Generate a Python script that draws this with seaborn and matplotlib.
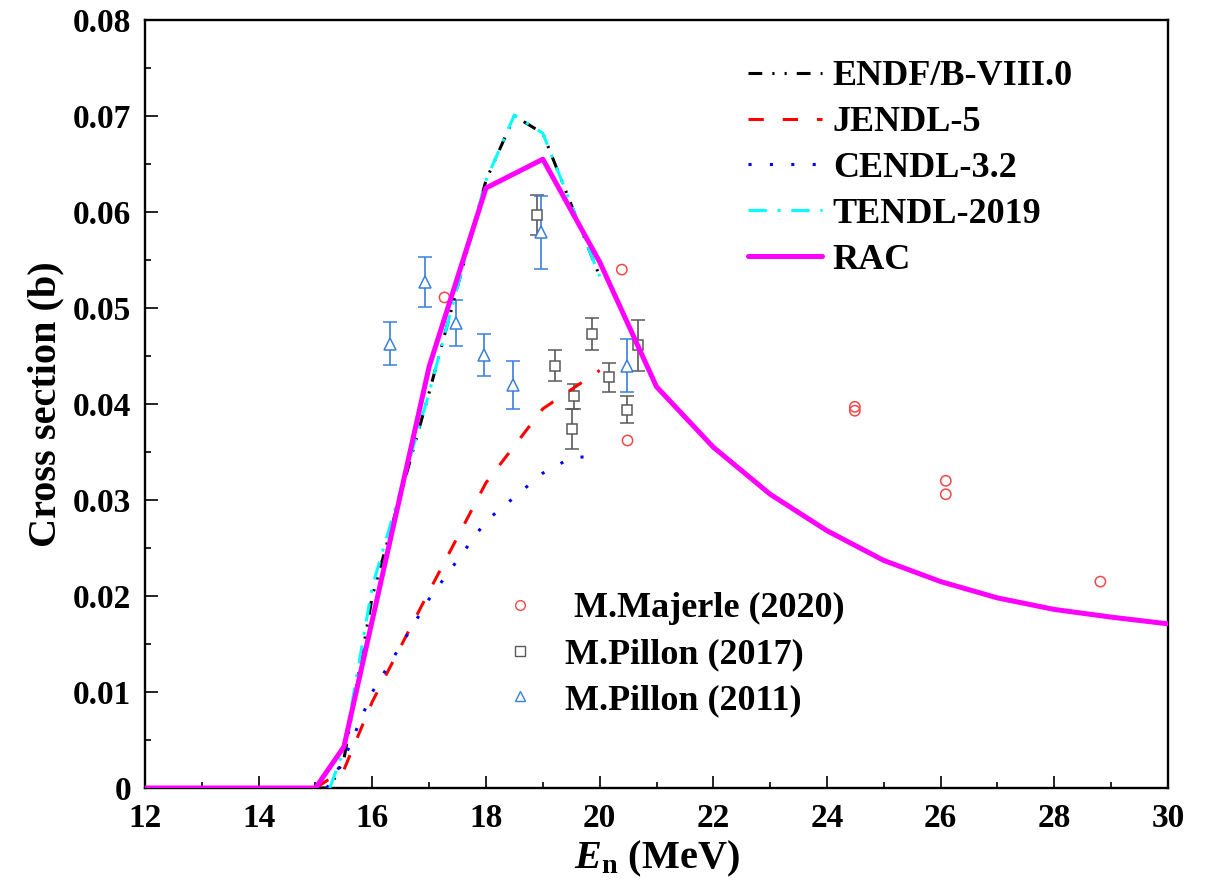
import numpy as np
import pandas as pd
import matplotlib
matplotlib.use("Agg")
import matplotlib.pyplot as plt
import seaborn as sns
from matplotlib.lines import Line2D
from matplotlib.ticker import MultipleLocator, FuncFormatter

# ---------------- data ----------------
endf_x = [15.0, 15.25, 15.5, 16.0, 17.0, 18.0, 18.5, 19.0, 20.0]
endf_y = [0.0, 0.0, 0.003, 0.020, 0.0412, 0.0633, 0.0700, 0.0682, 0.0533]

jendl_x = [15.0, 15.5, 16.0, 17.0, 18.0, 19.0, 20.0]
jendl_y = [0.0, 0.0019, 0.0090, 0.0205, 0.0318, 0.0395, 0.0435]

cendl_x = [15.2, 15.5, 16.0, 17.0, 18.0, 19.0, 19.5, 20.0]
cendl_y = [0.0, 0.003, 0.0100, 0.0197, 0.0278, 0.0328, 0.0344, 0.0346]

tendl_x = [15.25, 15.5, 16.0, 17.0, 18.0, 18.5, 19.0, 20.0]
tendl_y = [0.0, 0.004, 0.021, 0.0412, 0.0633, 0.0701, 0.0682, 0.0533]

rac_x = [12.0, 15.0, 15.5, 17.0, 18.0, 19.0, 20.0, 21.0, 22.0, 23.0, 24.0,
         25.0, 26.0, 27.0, 28.0, 29.0, 30.0]
rac_y = [0.0, 0.0, 0.0043, 0.0439, 0.0625, 0.0655, 0.0548, 0.0418, 0.0355,
         0.0306, 0.0268, 0.0237, 0.0215, 0.0198, 0.0186, 0.0178, 0.0171]

maj_x = [17.27, 20.39, 20.49, 24.49, 24.49, 26.09, 26.09, 28.81]
maj_y = [0.0511, 0.0540, 0.0362, 0.0397, 0.0393, 0.0320, 0.0306, 0.0215]

p17_x = [18.89, 19.22, 19.54, 19.52, 19.87, 20.17, 20.48, 20.68]
p17_y = [0.0597, 0.0440, 0.0408, 0.0374, 0.0473, 0.0428, 0.0394, 0.0461]
p17_e = [0.0021, 0.0016, 0.0013, 0.0021, 0.0017, 0.0015, 0.0014, 0.0027]

p11_x = [16.31, 16.93, 17.47, 17.96, 18.47, 18.96, 20.48]
p11_y = [0.0463, 0.0527, 0.0484, 0.0451, 0.0420, 0.0579, 0.0440]
p11_e = [0.0022, 0.0026, 0.0024, 0.0022, 0.0025, 0.0038, 0.0028]

lib_labels = ["ENDF/B-VIII.0", "JENDL-5", "CENDL-3.2", "TENDL-2019", "RAC"]
exp_labels = [" M.Majerle (2020)", "M.Pillon (2017)", "M.Pillon (2011)"]

# ---------------- style ----------------
sns.set_theme(style="white")
plt.rcParams["font.family"] = ["Liberation Serif", "DejaVu Serif"]
plt.rcParams["font.weight"] = "bold"
plt.rcParams["axes.labelweight"] = "bold"
plt.rcParams["text.color"] = "black"
plt.rcParams["axes.labelcolor"] = "black"
plt.rcParams["xtick.color"] = "black"
plt.rcParams["ytick.color"] = "black"
plt.rcParams["mathtext.fontset"] = "custom"
plt.rcParams["mathtext.it"] = "Liberation Serif:italic:bold"
plt.rcParams["mathtext.rm"] = "Liberation Serif:bold"
plt.rcParams["mathtext.bf"] = "Liberation Serif:bold"

fig = plt.figure(figsize=(12.1, 8.85), dpi=100)
ax = fig.add_axes([145 / 1210, 97 / 885, 1023 / 1210, 768 / 885])

col_circle = "#f04848"
col_square = "#5a5a5a"
col_tri = "#3a7fdc"

# experimental data
ax.errorbar(p17_x, p17_y, yerr=p17_e, fmt="s", mfc="white", mec=col_square,
            ecolor=col_square, ms=6.5, mew=1.1, elinewidth=1.2, capsize=5,
            capthick=1.2, zorder=3)
ax.errorbar(p11_x, p11_y, yerr=p11_e, fmt="^", mfc="white", mec=col_tri,
            ecolor=col_tri, ms=8, mew=1.1, elinewidth=1.2, capsize=5,
            capthick=1.2, zorder=3)
sns.scatterplot(x=maj_x, y=maj_y, ax=ax, marker="o", s=55, facecolor="none",
                edgecolor=col_circle, linewidth=1.1, zorder=3)

# evaluated libraries
lw = 2.2
ls_endf = (0, (4.5, 3.3, 0.7, 3.3, 0.7, 3.3))
ls_jendl = (0, (5, 6.2))
ls_cendl = (0, (1, 6))
ls_tendl = (0, (6, 3.5, 1, 3.5))
sns.lineplot(x=endf_x, y=endf_y, ax=ax, color="black", lw=lw, linestyle=ls_endf, zorder=4)
sns.lineplot(x=jendl_x, y=jendl_y, ax=ax, color="#ff0000", lw=lw, linestyle=ls_jendl, zorder=4)
sns.lineplot(x=cendl_x, y=cendl_y, ax=ax, color="#0000ff", lw=lw, linestyle=ls_cendl, zorder=4)
sns.lineplot(x=tendl_x, y=tendl_y, ax=ax, color="#00ffff", lw=lw, linestyle=ls_tendl, zorder=4)
sns.lineplot(x=rac_x, y=rac_y, ax=ax, color="#ff00ff", lw=3.6, zorder=5)

# axes
ax.set_xlim(12, 30)
ax.set_ylim(0, 0.08)
ax.xaxis.set_major_locator(MultipleLocator(2))
ax.xaxis.set_minor_locator(MultipleLocator(1))
ax.yaxis.set_major_locator(MultipleLocator(0.01))
ax.yaxis.set_minor_locator(MultipleLocator(0.005))
ax.yaxis.set_major_formatter(FuncFormatter(lambda v, p: "0" if abs(v) < 1e-9 else f"{v:.2f}"))
ax.tick_params(axis="both", which="both", direction="in", top=False, right=False,
               bottom=True, left=True, color="black", labelcolor="black")
ax.tick_params(axis="both", which="major", length=9, width=1.2, labelsize=24)
ax.tick_params(axis="both", which="minor", length=4.5, width=1.2)
ax.tick_params(axis="x", which="major", pad=11)
ax.tick_params(axis="y", which="major", pad=10)
for lab in ax.get_xticklabels() + ax.get_yticklabels():
    lab.set_fontweight("bold")
for sp in ax.spines.values():
    sp.set_color("black")
    sp.set_linewidth(1.7)
ax.grid(False)

ax.set_xlabel(r"$\mathit{E}_\mathrm{n}$ (MeV)", fontsize=29, fontweight="bold",
              labelpad=3, color="black")
ax.set_ylabel("Cross section (b)", fontsize=29, fontweight="bold", labelpad=6,
              color="black")

# legends
lib_handles = [
    Line2D([], [], color="black", lw=lw, linestyle=ls_endf),
    Line2D([], [], color="#ff0000", lw=lw, linestyle=ls_jendl),
    Line2D([], [], color="#0000ff", lw=lw, linestyle=ls_cendl),
    Line2D([], [], color="#00ffff", lw=lw, linestyle=ls_tendl),
    Line2D([], [], color="#ff00ff", lw=3.6),
]
leg1 = fig.legend(lib_handles, lib_labels, loc="upper left",
                  bbox_to_anchor=(748 / 1210, 1 - 60 / 885), frameon=False,
                  prop={"weight": "bold", "size": 26},
                  handlelength=2.05, handletextpad=0.3, labelspacing=0.35,
                  borderpad=0, borderaxespad=0)

exp_handles = [
    Line2D([], [], ls="none", marker="o", ms=7, mfc="white", mec=col_circle, mew=1.0),
    Line2D([], [], ls="none", marker="s", ms=6.5, mfc="white", mec=col_square, mew=1.0),
    Line2D([], [], ls="none", marker="^", ms=7.5, mfc="white", mec=col_tri, mew=1.0),
]
leg2 = fig.legend(exp_handles, exp_labels, loc="upper left",
                  bbox_to_anchor=(502 / 1210, 1 - 592 / 885), frameon=False,
                  prop={"weight": "bold", "size": 26},
                  handlelength=1.0, handletextpad=0.75, labelspacing=0.35,
                  borderpad=0, borderaxespad=0)
for lg in (leg1, leg2):
    for t in lg.get_texts():
        t.set_color("black")

fig.savefig("out.png", dpi=100)
